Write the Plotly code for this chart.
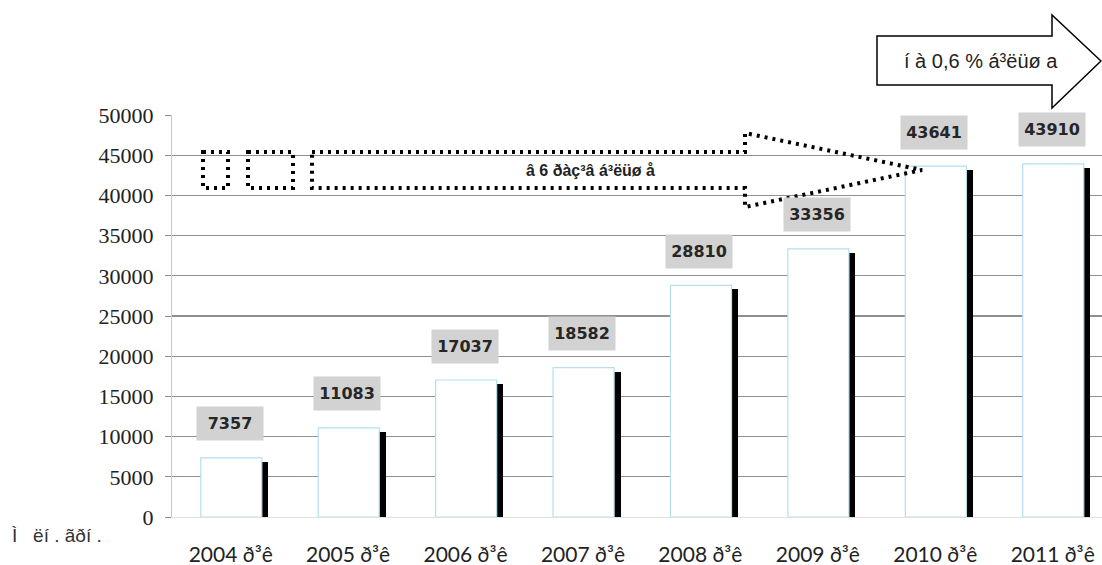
import plotly.graph_objects as go

# ---- data ----
years = ["2004 ð³ê", "2005 ð³ê", "2006 ð³ê", "2007 ð³ê",
         "2008 ð³ê", "2009 ð³ê", "2010 ð³ê", "2011 ð³ê"]
values = [7357, 11083, 17037, 18582, 28810, 33356, 43641, 43910]
y_ticks = [0, 5000, 10000, 15000, 20000, 25000, 30000, 35000, 40000, 45000, 50000]
unit_label = "Ì   ëí . ãðí ."
growth_text = "â 6 ðàç³â á³ëüø å"
last_text = "í à 0,6 % á³ëüø a"

# ---- layout geometry (pixels) ----
W, H = 1102, 565
L, R, T, B = 172, 0, 115, 48
PW, PH = W - L - R, H - T - B


def px(x):
    return (x - L) / PW


def py(y):
    return (H - B - y) / PH


def path(points):
    return "M " + " L ".join(f"{px(x):.5f},{py(y):.5f}" for x, y in points) + " Z"


shadow_shift = 500  # shadow drop in data units (~4px)
shadow_vals = [v - shadow_shift for v in values]

fig = go.Figure()
# shadow bars (behind)
fig.add_trace(go.Bar(
    x=years, y=shadow_vals, width=0.52, offset=-0.20,
    marker=dict(color="#000000", line=dict(width=0)),
    hoverinfo="skip", showlegend=False,
))
# main bars
fig.add_trace(go.Bar(
    x=years, y=values, width=0.52, offset=-0.255,
    marker=dict(color="#ffffff", line=dict(color="#b5def2", width=1.2)),
    showlegend=False,
))

annotations = []
for yr, v in zip(years, values):
    annotations.append(dict(
        x=yr, y=v, xref="x", yref="y", yshift=34, xshift=-1,
        text=f"<b>{v}</b>", showarrow=False,
        font=dict(family="DejaVu Sans", size=16, color="#262626"),
        bgcolor="#d2d2d2", width=64, height=31,
    ))

annotations.append(dict(
    x=px(10), y=py(535), xref="paper", yref="paper", xanchor="left", yanchor="middle",
    text=unit_label, showarrow=False,
    font=dict(family="Liberation Sans", size=19, color="#333333"),
))
annotations.append(dict(
    x=px(590), y=py(170), xref="paper", yref="paper", xanchor="center", yanchor="middle",
    text=f"<b>{growth_text}</b>", showarrow=False,
    font=dict(family="Liberation Sans", size=16, color="#222222"),
))
annotations.append(dict(
    x=px(981), y=py(61), xref="paper", yref="paper", xanchor="center", yanchor="middle",
    text=last_text, showarrow=False,
    font=dict(family="Liberation Sans", size=20, color="#222222"),
))

dot_line = dict(color="#000000", width=4, dash="3px,5px")
shapes = [
    # dotted block arrow
    dict(type="path", xref="paper", yref="paper", layer="above",
         path=path([(312, 152), (745, 152), (745, 133), (922, 170),
                    (745, 207), (745, 188), (312, 188)]),
         line=dot_line, fillcolor="rgba(0,0,0,0)"),
    dict(type="path", xref="paper", yref="paper", layer="above",
         path=path([(203, 152), (228, 152), (228, 188), (203, 188)]),
         line=dot_line, fillcolor="rgba(0,0,0,0)"),
    dict(type="path", xref="paper", yref="paper", layer="above",
         path=path([(248, 152), (293, 152), (293, 188), (248, 188)]),
         line=dot_line, fillcolor="rgba(0,0,0,0)"),
    # white block arrow (top right)
    dict(type="path", xref="paper", yref="paper", layer="below",
         path=path([(877, 36), (1052, 36), (1052, 15), (1101, 61),
                    (1052, 108), (1052, 85), (877, 85)]),
         line=dict(color="#000000", width=1.5), fillcolor="#ffffff"),
]

fig.update_layout(
    width=W, height=H,
    margin=dict(l=L, r=R, t=T, b=B, pad=0),
    paper_bgcolor="#ffffff", plot_bgcolor="#ffffff",
    barmode="overlay", bargap=0,
    annotations=annotations, shapes=shapes,
    xaxis=dict(
        type="category", range=[-0.5, 7.42], showgrid=False,
        showline=True, linecolor="#e0e0e0", linewidth=1,
        ticks="", tickfont=dict(family="Lato", size=21, color="#222222"),
        ticklabelstandoff=19,
    ),
    yaxis=dict(
        range=[0, 50000], tickvals=y_ticks, ticktext=[str(t) for t in y_ticks],
        showgrid=True, gridcolor="#8f8f8f", gridwidth=1.2,
        showline=True, linecolor="#c8c8c8", linewidth=1,
        ticks="outside", ticklen=6, tickcolor="#8f8f8f",
        tickfont=dict(family="Liberation Serif", size=22, color="#222222"),
        ticklabelstandoff=7, zeroline=False,
    ),
)

fig.write_html(
    "out.html",
    config={"displayModeBar": False, "staticPlot": True},
    post_script="document.documentElement.style.margin='0';"
                "document.body.style.margin='0';document.body.style.padding='0';"
                "document.body.style.overflow='hidden';",
)
